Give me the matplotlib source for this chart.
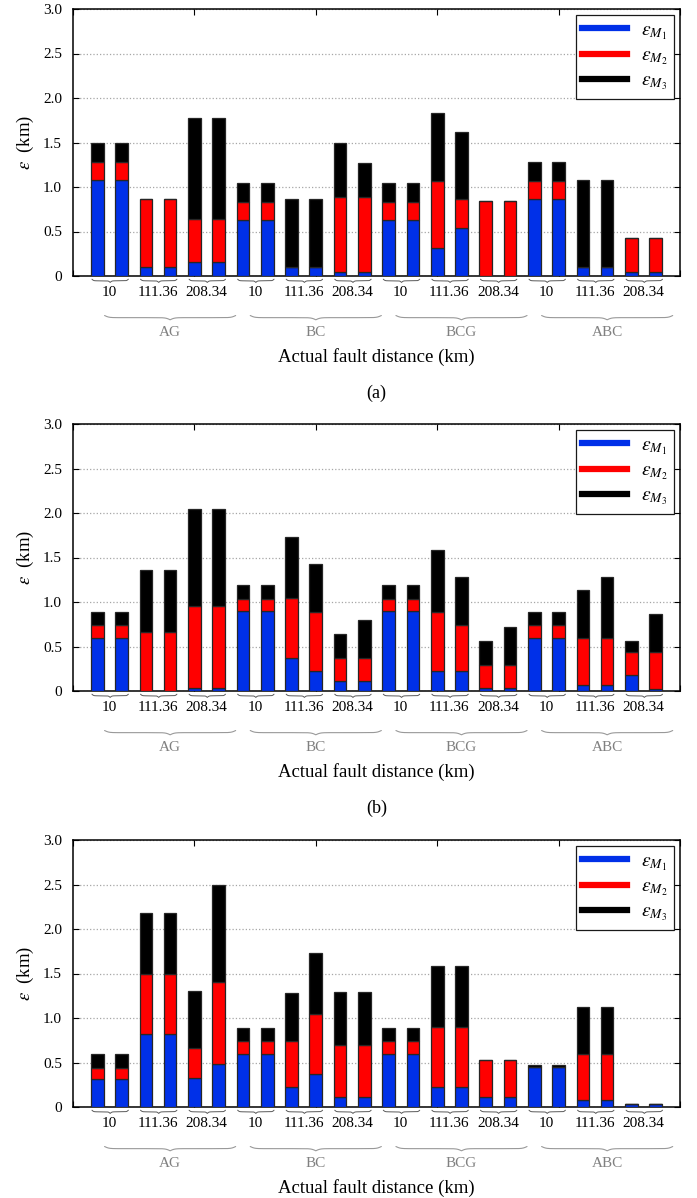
import numpy as np
import matplotlib
matplotlib.use('Agg')
import matplotlib.pyplot as plt
from matplotlib.lines import Line2D

plt.rcParams['font.family'] = ['Liberation Serif', 'DejaVu Serif']
plt.rcParams['mathtext.fontset'] = 'stix'

# fault types, distances (each distance has two bars)
fault_types = ['AG', 'BC', 'BCG', 'ABC']
distances = ['10', '111.36', '208.34']

# panel (a) error parts, km
a_m1 = [1.08, 1.08, 0.10, 0.10, 0.16, 0.16, 0.63, 0.63, 0.10, 0.10, 0.045, 0.045,
        0.63, 0.63, 0.315, 0.54, 0.0, 0.0, 0.87, 0.87, 0.10, 0.10, 0.05, 0.05]
a_m2 = [0.20, 0.20, 0.76, 0.76, 0.48, 0.48, 0.20, 0.20, 0.0, 0.0, 0.84, 0.84,
        0.20, 0.20, 0.755, 0.32, 0.845, 0.845, 0.20, 0.20, 0.0, 0.0, 0.38, 0.38]
a_m3 = [0.215, 0.215, 0.0, 0.0, 1.13, 1.13, 0.21, 0.21, 0.76, 0.76, 0.605, 0.39,
        0.21, 0.21, 0.76, 0.76, 0.0, 0.0, 0.21, 0.21, 0.975, 0.975, 0.0, 0.0]

# panel (b)
b_m1 = [0.60, 0.60, 0.0, 0.0, 0.03, 0.03, 0.90, 0.90, 0.375, 0.22, 0.11, 0.11,
        0.90, 0.90, 0.22, 0.22, 0.03, 0.03, 0.60, 0.60, 0.07, 0.07, 0.175, 0.025]
b_m2 = [0.14, 0.14, 0.665, 0.665, 0.93, 0.93, 0.135, 0.135, 0.67, 0.67, 0.26, 0.26,
        0.135, 0.135, 0.67, 0.525, 0.26, 0.26, 0.14, 0.14, 0.53, 0.53, 0.265, 0.415]
b_m3 = [0.15, 0.15, 0.69, 0.69, 1.09, 1.09, 0.155, 0.155, 0.685, 0.535, 0.27, 0.425,
        0.155, 0.155, 0.69, 0.535, 0.27, 0.425, 0.15, 0.15, 0.53, 0.68, 0.12, 0.42]

# panel (c)
c_m1 = [0.31, 0.31, 0.82, 0.82, 0.33, 0.48, 0.60, 0.60, 0.22, 0.37, 0.11, 0.11,
        0.60, 0.60, 0.22, 0.22, 0.11, 0.11, 0.45, 0.45, 0.075, 0.075, 0.035, 0.035]
c_m2 = [0.13, 0.13, 0.67, 0.67, 0.335, 0.93, 0.14, 0.14, 0.52, 0.675, 0.59, 0.59,
        0.14, 0.14, 0.675, 0.675, 0.42, 0.42, 0.0, 0.0, 0.52, 0.52, 0.0, 0.0]
c_m3 = [0.155, 0.155, 0.685, 0.685, 0.64, 1.09, 0.15, 0.15, 0.54, 0.68, 0.59, 0.59,
        0.15, 0.15, 0.685, 0.685, 0.0, 0.0, 0.025, 0.025, 0.53, 0.53, 0.0, 0.0]

panels = [(a_m1, a_m2, a_m3, '(a)'), (b_m1, b_m2, b_m3, '(b)'), (c_m1, c_m2, c_m3, None)]

blue = '#0030e8'
red = '#ff0000'
black = '#000000'


def brace(ax, x0, x1, y, h, color, lw, k=28):
    # horizontal curly brace pointing down, x in data, y in axes fraction
    half = (x1 - x0) / 2
    beta = k / half
    xh = np.linspace(x0, x0 + half, 150)
    yh = 1 / (1 + np.exp(-beta * (xh - xh[0]))) + 1 / (1 + np.exp(-beta * (xh - xh[-1])))
    yh = (yh - yh.min()) / (yh.max() - yh.min())
    xs = np.concatenate([xh, 2 * xh[-1] - xh[-2::-1]])
    ys = np.concatenate([yh, yh[-2::-1]])
    ax.plot(xs, y - h * ys, color=color, lw=lw, transform=ax.get_xaxis_transform(),
            clip_on=False, solid_capstyle='round')


fig = plt.figure(figsize=(6.97, 11.98), dpi=100)
bottoms = [1 - 276 / 1198, 1 - 691 / 1198, 1 - 1107 / 1198]
x = np.arange(1, 25)

for (m1, m2, m3, tag), bot in zip(panels, bottoms):
    ax = fig.add_axes([73 / 697, bot, 607 / 697, 267 / 1198])
    m1 = np.array(m1)
    m2 = np.array(m2)
    m3 = np.array(m3)
    kw = dict(width=0.52, edgecolor='0.15', linewidth=0.9, zorder=3)
    ax.bar(x, m1, color=blue, **kw)
    ax.bar(x, m2, bottom=m1, color=red, **kw)
    ax.bar(x, m3, bottom=m1 + m2, color=black, **kw)

    ax.set_xlim(0, 25)
    ax.set_ylim(0, 3)
    ax.set_yticks(np.arange(0, 3.01, 0.5))
    ax.set_yticklabels(['0', '0.5', '1.0', '1.5', '2.0', '2.5', '3.0'])
    ax.set_xticks([0, 5, 10, 15, 20, 25])
    ax.set_xticklabels([])
    ax.tick_params(direction='in', length=4, width=0.8, top=True, right=True,
                   labelsize=11, pad=8)
    ax.yaxis.grid(True, linestyle=':', color='0.65', linewidth=0.9)
    ax.set_axisbelow(True)
    for s in ax.spines.values():
        s.set_linewidth(1.1)

    trans = ax.get_xaxis_transform()
    # pair braces and distance labels
    for p in range(12):
        xc = 1.5 + 2 * p
        brace(ax, xc - 0.72, xc + 0.78, -0.012, 0.012, '0.35', 0.7, k=22)
        ax.text(xc, -0.06, distances[p % 3], transform=trans, ha='center', va='center',
                fontsize=11)
    # group braces and labels
    for g, name in enumerate(fault_types):
        gc = 6 * g + 4.0
        brace(ax, gc - 2.7, gc + 2.7, -0.148, 0.016, '0.6', 0.8, k=30)
        ax.text(gc, -0.21, name, transform=trans, ha='center', va='center',
                fontsize=11, color='0.5')
    ax.text(12.5, -0.303, 'Actual fault distance (km)', transform=trans,
            ha='center', va='center', fontsize=13.5)
    if tag:
        ax.text(12.5, -0.438, tag, transform=trans, ha='center', va='center', fontsize=13)
    ax.text(-0.078, 0.5, r'$\varepsilon$  (km)', transform=ax.transAxes, rotation=90,
            ha='center', va='center', fontsize=13.5)

    handles = [Line2D([], [], color=c, lw=4.5) for c in (blue, red, black)]
    leg = ax.legend(handles, [r'$\varepsilon_{M_1}$', r'$\varepsilon_{M_2}$',
                              r'$\varepsilon_{M_3}$'],
                    loc='upper right', fontsize=14, frameon=True, fancybox=False,
                    framealpha=1, edgecolor='0.1', handlelength=2.3,
                    handletextpad=0.7, labelspacing=0.25, borderaxespad=0.3,
                    borderpad=0.35)
    leg.get_frame().set_linewidth(0.9)

fig.savefig('out.png', dpi=100)
